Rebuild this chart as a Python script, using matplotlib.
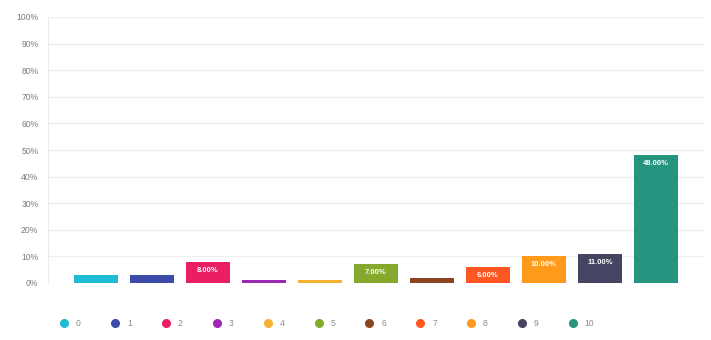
import matplotlib
matplotlib.use("Agg")
import matplotlib.pyplot as plt
from matplotlib.lines import Line2D
from matplotlib.ticker import FuncFormatter

categories = ["0", "1", "2", "3", "4", "5", "6", "7", "8", "9", "10"]
values = [3, 3, 8, 1, 1, 7, 2, 6, 10, 11, 48]
colors = ["#1EBCD3", "#3A4BA8", "#E91E63", "#9C27B0", "#F5B331", "#86A92D",
          "#8B4520", "#FF5722", "#FF9A1A", "#464463", "#26947F"]
yticks = [0, 10, 20, 30, 40, 50, 60, 70, 80, 90, 100]

plt.rcParams['font.family'] = ['Liberation Sans', 'DejaVu Sans']

W, H = 711, 340
fig = plt.figure(figsize=(W / 100, H / 100), dpi=100)
ax = fig.add_axes([48 / W, (H - 283) / H, (704 - 48) / W, (283 - 17) / H])

x = list(range(len(categories)))
bars = ax.bar(x, values, width=0.79, color=colors, zorder=2)

for b, v in zip(bars, values):
    if v >= 5:
        ax.annotate(f"{v:.2f}%", xy=(b.get_x() + b.get_width() / 2, v),
                    xytext=(0, -6), textcoords="offset points",
                    ha="center", va="center", color="white", fontsize=5.5,
                    fontweight="bold")

ax.set_xlim(-0.86, 10.86)
ax.set_ylim(0, 100)
ax.set_yticks(yticks)
ax.yaxis.set_major_formatter(FuncFormatter(lambda v, p: f"{int(v)}%"))
ax.tick_params(axis='y', length=0, labelsize=6.2, labelcolor="#7a7a7a", pad=7)
ax.set_xticks([])
ax.grid(axis='y', color="#ececec", linewidth=0.8, zorder=0)
for s in ["top", "right", "bottom"]:
    ax.spines[s].set_visible(False)
ax.spines["left"].set_color("#ececec")
ax.spines["left"].set_linewidth(0.8)

handles = [Line2D([], [], linestyle='none', marker='o', markersize=5.5,
                  markerfacecolor=c, markeredgecolor=c) for c in colors]
leg = fig.legend(handles, categories, loc='center', ncol=len(categories),
                 bbox_to_anchor=(327 / W, (H - 324) / H), frameon=False,
                 fontsize=6.2, labelcolor="#8a8a8a", handlelength=1.0,
                 handletextpad=0.9, columnspacing=3.45)

fig.savefig("out.png", dpi=100, facecolor="white")
